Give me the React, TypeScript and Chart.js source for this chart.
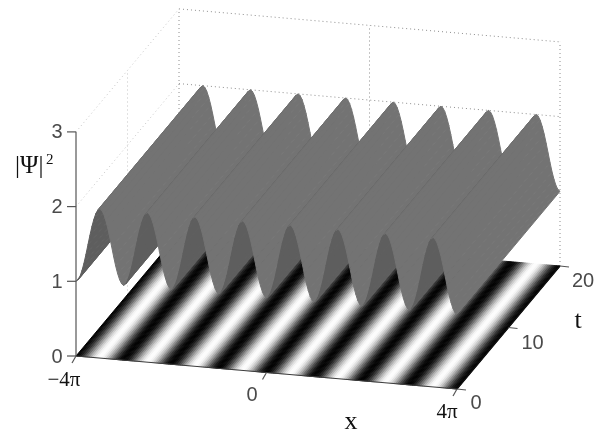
import React, { useEffect, useRef } from "react";
import { Chart, registerables } from "chart.js";

Chart.register(...registerables);

// |Psi|^2 along x: eight periods from -4pi to 4pi
const psiSquared = [
  1.00,1.02,1.07,1.15,1.25,1.37,1.50,1.63,1.75,1.85,1.93,1.98,2.00,1.98,1.93,1.85,1.75,1.63,1.50,1.37,1.25,1.15,1.07,1.02,
  1.00,1.02,1.07,1.15,1.25,1.37,1.50,1.63,1.75,1.85,1.93,1.98,2.00,1.98,1.93,1.85,1.75,1.63,1.50,1.37,1.25,1.15,1.07,1.02,
  1.00,1.02,1.07,1.15,1.25,1.37,1.50,1.63,1.75,1.85,1.93,1.98,2.00,1.98,1.93,1.85,1.75,1.63,1.50,1.37,1.25,1.15,1.07,1.02,
  1.00,1.02,1.07,1.15,1.25,1.37,1.50,1.63,1.75,1.85,1.93,1.98,2.00,1.98,1.93,1.85,1.75,1.63,1.50,1.37,1.25,1.15,1.07,1.02,
  1.00,1.02,1.07,1.15,1.25,1.37,1.50,1.63,1.75,1.85,1.93,1.98,2.00,1.98,1.93,1.85,1.75,1.63,1.50,1.37,1.25,1.15,1.07,1.02,
  1.00,1.02,1.07,1.15,1.25,1.37,1.50,1.63,1.75,1.85,1.93,1.98,2.00,1.98,1.93,1.85,1.75,1.63,1.50,1.37,1.25,1.15,1.07,1.02,
  1.00,1.02,1.07,1.15,1.25,1.37,1.50,1.63,1.75,1.85,1.93,1.98,2.00,1.98,1.93,1.85,1.75,1.63,1.50,1.37,1.25,1.15,1.07,1.02,
  1.00,1.02,1.07,1.15,1.25,1.37,1.50,1.63,1.75,1.85,1.93,1.98,2.00,1.98,1.93,1.85,1.75,1.63,1.50,1.37,1.25,1.15,1.07,1.02,
  1.00,
];
const xRange = [-4, 4]; // in units of pi
const tRange = [0, 20];
const zTicks = [0, 1, 2, 3];
const zTickLabels = ["0", "1", "2", "3"];
const tTicks = [0, 10, 20];
const tTickLabels = ["0", "10", "20"];
const xTicks = [-4, 0, 4];
const xTickLabels = ["\u22124\u03c0", "0", "4\u03c0"];

const W = 606;
const H = 434;

// Oblique view of the box, in canvas pixels
function project(x: number, t: number, z: number) {
  const u = (x - xRange[0]) / (xRange[1] - xRange[0]);
  const v = (t - tRange[0]) / (tRange[1] - tRange[0]);
  return {
    x: 76 + 381 * u + 103 * v,
    y: 356 + 33 * u - 123 * v - 74.7 * z,
  };
}

function gray(level: number) {
  const c = Math.round(Math.max(0, Math.min(255, level)));
  return `rgb(${c},${c},${c})`;
}

function polygon(points: { x: number; y: number }[], color: string) {
  return {
    type: "line" as const,
    data: [...points, points[0]],
    showLine: true,
    fill: "shape",
    backgroundColor: color,
    borderColor: color,
    borderWidth: 1,
    pointRadius: 0,
    tension: 0,
  };
}

function segment(
  a: { x: number; y: number },
  b: { x: number; y: number },
  color: string,
  width = 1,
  dash: number[] = []
) {
  return {
    type: "line" as const,
    data: [a, b],
    showLine: true,
    fill: false,
    borderColor: color,
    borderWidth: width,
    borderDash: dash,
    pointRadius: 0,
  };
}

function xAt(i: number) {
  return xRange[0] + ((xRange[1] - xRange[0]) * i) / (psiSquared.length - 1);
}

function buildDatasets() {
  const sets: any[] = [];
  const [t0, t1] = tRange;
  const dots = [1, 3];
  const wall = "#8c8c8c";
  const side = "#c4c4c4";

  // Back walls: dotted grid
  for (const z of [2, 3]) {
    sets.push(segment(project(xRange[0], t1, z), project(xRange[1], t1, z), wall, 1, dots));
    sets.push(segment(project(xRange[0], t0, z), project(xRange[0], t1, z), side, 1, dots));
  }
  sets.push(segment(project(xRange[0], t1, 0), project(xRange[0], t1, 3), wall, 1, dots));
  sets.push(segment(project(0, t1, 0), project(0, t1, 3), wall, 1, dots));
  sets.push(segment(project(xRange[1], t1, 0), project(xRange[1], t1, 3), wall, 1, dots));
  sets.push(segment(project(xRange[0], 10, 0), project(xRange[0], 10, 3), side, 1, dots));

  // Floor: the map of |Psi|^2
  for (let i = 0; i < psiSquared.length - 1; i++) {
    const a = xAt(i);
    const b = xAt(i + 1);
    const level = (psiSquared[i] + psiSquared[i + 1]) / 2 - 1;
    sets.push(
      polygon(
        [project(a, t0, 0), project(b, t0, 0), project(b, t1, 0), project(a, t1, 0)],
        gray(255 * level)
      )
    );
  }

  // Surface: strips painted from far (left) to near (right)
  for (let i = 0; i < psiSquared.length - 1; i++) {
    const a = xAt(i);
    const b = xAt(i + 1);
    const za = psiSquared[i];
    const zb = psiSquared[i + 1];
    const p0 = project(a, t0, za);
    const p1 = project(b, t0, zb);
    const q = project(a, t1, za);
    // sign of the cross product tells whether we see the under side
    const cross = (p1.x - p0.x) * (q.y - p0.y) - (p1.y - p0.y) * (q.x - p0.x);
    const color = cross > 0 ? "#5e5e5e" : zb >= za ? "#6e6e6e" : "#737373";
    sets.push(polygon([p0, p1, project(b, t1, zb), q], color));
  }

  // Axes
  const axis = "#555555";
  sets.push(segment(project(xRange[0], t0, 0), project(xRange[0], t0, 3), axis, 1.2));
  sets.push(segment(project(xRange[0], t0, 0), project(xRange[1], t0, 0), "#3c3c3c", 1.2));
  sets.push(segment(project(xRange[1], t0, 0), project(xRange[1], t1, 0), "#111111", 1.2));
  for (const z of zTicks) {
    const p = project(xRange[0], t0, z);
    sets.push(segment(p, { x: p.x - 9, y: p.y }, axis, 1.2));
  }
  for (const t of tTicks) {
    const p = project(xRange[1], t, 0);
    sets.push(segment(p, { x: p.x + 9, y: p.y + 1 }, axis, 1.2));
  }
  for (const x of xTicks) {
    const p = project(x, t0, 0);
    sets.push(segment(p, { x: p.x - 4, y: p.y + 7 }, axis, 1.2));
  }
  // Chart.js paints the first dataset last, so hand them over far-last
  return sets.reverse();
}

const textPlugin = {
  id: "plotText",
  afterDraw(chart: any) {
    const { ctx } = chart;
    ctx.save();
    ctx.textAlign = "center";
    ctx.textBaseline = "middle";

    ctx.font = '20px "Liberation Sans", Arial, sans-serif';
    ctx.fillStyle = "#4a4a4a";
    zTicks.forEach((z, i) => {
      const p = project(xRange[0], tRange[0], z);
      ctx.fillText(zTickLabels[i], p.x - 19, p.y + 1);
    });
    const tOffsets = [[19, 14], [24, 16], [23, 15]];
    tTicks.forEach((t, i) => {
      const p = project(xRange[1], t, 0);
      ctx.fillText(tTickLabels[i], p.x + tOffsets[i][0], p.y + tOffsets[i][1]);
    });
    ctx.fillText(xTickLabels[1], 252, 395);

    ctx.font = '21px "Liberation Serif", "Times New Roman", serif';
    ctx.fillStyle = "#111111";
    ctx.fillText(xTickLabels[0], 64, 380);
    ctx.fillText(xTickLabels[2], 447, 412);
    ctx.font = '26px "Liberation Serif", "Times New Roman", serif';
    ctx.fillText("x", 351, 422);
    ctx.fillText("t", 578, 321);

    ctx.textAlign = "left";
    ctx.font = '25px "Liberation Serif", "Times New Roman", serif';
    ctx.fillText("|\u03a8|", 15, 166);
    ctx.font = '15px "Liberation Serif", "Times New Roman", serif';
    ctx.fillText("2", 46, 160);
    ctx.restore();
  },
};

export default function App() {
  const ref = useRef<HTMLCanvasElement>(null);
  useEffect(() => {
    if (!ref.current) return;
    const chart = new Chart(ref.current, {
      type: "scatter",
      data: { datasets: buildDatasets() },
      options: {
        animation: false,
        responsive: false,
        normalized: true,
        spanGaps: true,
        layout: { padding: 0 },
        plugins: { legend: { display: false }, tooltip: { enabled: false } },
        scales: {
          x: { type: "linear", display: false, min: 0, max: W },
          y: { type: "linear", display: false, min: 0, max: H, reverse: true },
        },
      } as any,
      plugins: [textPlugin],
    } as any);
    return () => chart.destroy();
  }, []);
  return (
    <canvas
      ref={ref}
      width={W}
      height={H}
      style={{
        position: "absolute",
        left: 0,
        top: 0,
        width: W,
        height: H,
        background: "#fff",
        filter: "blur(0.5px)",
      }}
    />
  );
}
